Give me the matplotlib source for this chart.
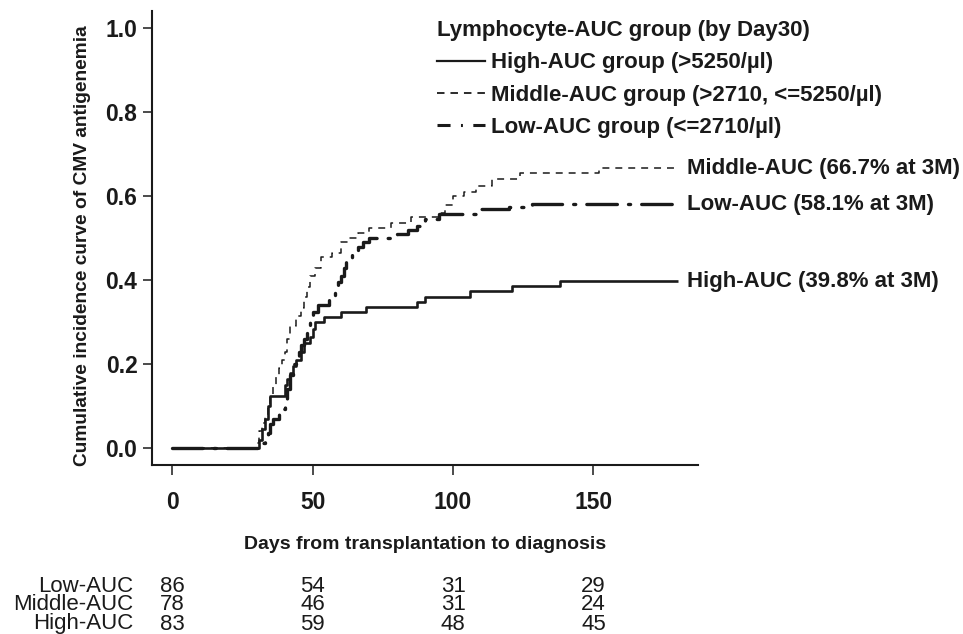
import matplotlib
matplotlib.use("Agg")
import matplotlib.pyplot as plt
from matplotlib.lines import Line2D
from matplotlib.transforms import blended_transform_factory

plt.rcParams['font.family'] = ['Liberation Sans', 'DejaVu Sans']
plt.rcParams['lines.scale_dashes'] = False

# cumulative incidence (step, post)
high_days = [0, 31, 32, 33, 34, 35, 40, 41, 42, 43, 44, 46, 47, 49, 50, 51, 54, 60, 69, 87, 90, 106, 121, 138, 180]
high_cif = [0, 0.02, 0.045, 0.07, 0.10, 0.125, 0.15, 0.165, 0.18, 0.195, 0.21, 0.23, 0.25, 0.265, 0.285,
            0.30, 0.313, 0.325, 0.337, 0.349, 0.361, 0.374, 0.386, 0.398, 0.398]

mid_days = [0, 30, 31, 32, 33, 34, 35, 36, 37, 38, 39, 40, 41, 42, 44, 46, 47, 48, 49, 51, 53, 57, 60,
            63, 66, 70, 78, 85, 95, 97, 100, 104, 108, 114, 124, 152, 180]
mid_cif = [0, 0.013, 0.04, 0.06, 0.08, 0.10, 0.125, 0.15, 0.17, 0.19, 0.21, 0.23, 0.26, 0.29, 0.315,
           0.335, 0.36, 0.385, 0.41, 0.43, 0.455, 0.465, 0.49, 0.50, 0.513, 0.525, 0.537, 0.55, 0.56,
           0.58, 0.60, 0.61, 0.625, 0.64, 0.655, 0.667, 0.667]

low_days = [0, 32, 33, 34, 35, 36, 38, 39, 40, 41, 42, 43, 44, 45, 46, 47, 48, 49, 50, 52, 56, 58, 59,
            60, 61, 62, 64, 66, 68, 70, 80, 84, 87, 90, 95, 110, 120, 128, 180]
low_cif = [0, 0.012, 0.023, 0.035, 0.058, 0.07, 0.081, 0.093, 0.105, 0.14, 0.175, 0.20, 0.215, 0.23,
           0.245, 0.26, 0.28, 0.30, 0.325, 0.34, 0.36, 0.38, 0.395, 0.41, 0.43, 0.45, 0.465, 0.48, 0.49,
           0.50, 0.51, 0.52, 0.53, 0.545, 0.558, 0.569, 0.575, 0.581, 0.581]

end_labels = ['High-AUC (39.8% at 3M)', 'Middle-AUC (66.7% at 3M)', 'Low-AUC (58.1% at 3M)']
legend_labels = ['High-AUC group (>5250/\u00b5l)', 'Middle-AUC group (>2710, <=5250/\u00b5l)',
                 'Low-AUC group (<=2710/\u00b5l)']

risk_groups = ['Low-AUC', 'Middle-AUC', 'High-AUC']
risk_times = [0, 50, 100, 150]
risk_counts = [[86, 54, 31, 29],
               [78, 46, 31, 24],
               [83, 59, 48, 45]]

ink = '#1a1a1a'

fig = plt.figure(figsize=(9.63, 6.34), dpi=100)
ax = fig.add_axes([0.1578, 0.2666, 0.5670, 0.7153])

ax.step(high_days, high_cif, where='post', color=ink, lw=1.9, solid_capstyle='butt')
ax.step(mid_days, mid_cif, where='post', color=ink, lw=1.1, dashes=(5, 4.3))
ax.step(low_days, low_cif, where='post', color=ink, lw=2.4,
        dashes=(22, 8, 1.5, 8), dash_capstyle='round')

ax.set_xlim(-7.2, 187.2)
ax.set_ylim(-0.04, 1.04)
for s in ['top', 'right']:
    ax.spines[s].set_visible(False)
for s in ['left', 'bottom']:
    ax.spines[s].set_linewidth(1.5)
    ax.spines[s].set_color(ink)

ax.set_xticks(risk_times)
ax.set_yticks([0, 0.2, 0.4, 0.6, 0.8, 1.0])
ax.set_yticklabels(['0.0', '0.2', '0.4', '0.6', '0.8', '1.0'])
ax.tick_params(axis='both', direction='out', width=1.1, color=ink, labelsize=16.5, labelcolor=ink)
ax.tick_params(axis='y', length=6.5, pad=4)
ax.tick_params(axis='x', length=7.5, pad=11)
for lab in ax.get_xticklabels() + ax.get_yticklabels():
    lab.set_fontweight('bold')

ax.set_ylabel('Cumulative incidence curve of CMV antigenemia', fontsize=13.8, fontweight='bold',
              color=ink)
ax.yaxis.set_label_coords(-0.112, 0.483)
ax.set_xlabel('Days from transplantation to diagnosis', fontsize=14, fontweight='bold',
              labelpad=16, color=ink)

# labels at curve ends
for lab, yv in zip(end_labels, [high_cif[-1], mid_cif[-1], low_cif[-1]]):
    ax.text(183.2, yv, lab, fontsize=16, fontweight='bold', va='center', ha='left',
            color=ink, clip_on=False)

handles = [Line2D([], [], color=ink, lw=1.6),
           Line2D([], [], color=ink, lw=1.3, dashes=(5.4, 4.3)),
           Line2D([], [], color=ink, lw=2.2, dashes=(9.4, 7.5, 1.4, 7.5))]
leg = ax.legend(handles, legend_labels, loc='upper left', bbox_to_anchor=(0.505, 1.0),
                frameon=False, prop={'weight': 'bold', 'size': 16}, handlelength=2.16,
                handletextpad=0.3, labelspacing=0.5, borderaxespad=0,
                title='Lymphocyte-AUC group (by Day30)',
                title_fontproperties={'weight': 'bold', 'size': 16}, alignment='left')
for t in leg.get_texts():
    t.set_color(ink)
leg.get_title().set_color(ink)

# number at risk table
trans = blended_transform_factory(ax.transData, fig.transFigure)
row_y = [1 - 586 / 634, 1 - 605 / 634, 1 - 624 / 634]
for grp, counts, yy in zip(risk_groups, risk_counts, row_y):
    fig.text(133 / 963, yy, grp, fontsize=16, ha='right', va='center', color=ink)
    for t, n in zip(risk_times, counts):
        ax.text(t, yy, str(n), transform=trans, fontsize=16, ha='center', va='center',
                color=ink, clip_on=False)

fig.savefig('out.png', dpi=100)
